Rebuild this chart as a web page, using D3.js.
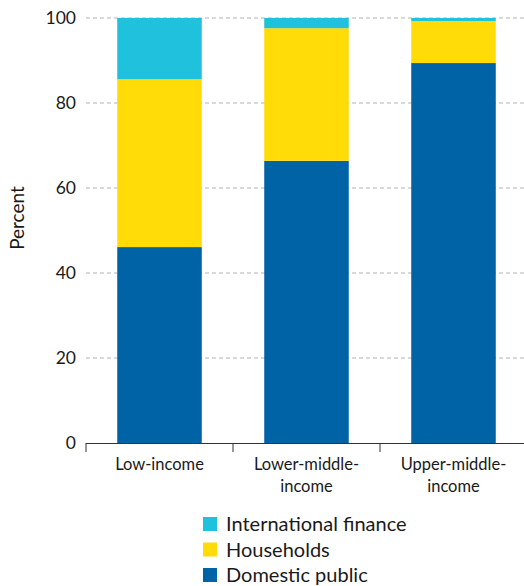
<html>
<head>
	<title>Financing sources by income group</title>
</head>
<body style="margin:0">
	<script src="https://cdnjs.cloudflare.com/ajax/libs/d3/7.8.5/d3.min.js"></script>
	<script type="text/javascript">
		var groups = ["Low-income", "Lower-middle-income", "Upper-middle-income"];
		var groupLines = [["Low-income"], ["Lower-middle-", "income"], ["Upper-middle-", "income"]];
		var seriesNames = ["Domestic public", "Households", "International finance"];
		var domesticPublic = [46.1, 66.4, 89.4];
		var households = [39.5, 31.2, 9.9];
		var internationalFinance = [14.4, 2.4, 0.7];
		var yTicks = [0, 20, 40, 60, 80, 100];
		var colors = ["#0063a6", "#ffdb07", "#20c1dc"];

		var W = 524, H = 586;
		var font = "Lato, 'Open Sans', sans-serif";
		var svg = d3.select("body").append("svg")
					.attr("width", W)
					.attr("height", H)
					.style("font-family", font);

		var x = d3.scaleBand().domain(groups).range([86, 527]).paddingInner(0.425).paddingOuter(0.2125);
		var y = d3.scaleLinear().domain([0, 100]).range([443, 18]);

		var rows = groups.map(function(g, i){
			return {group: g, "Domestic public": domesticPublic[i], "Households": households[i], "International finance": internationalFinance[i]};
		});
		var stacked = d3.stack().keys(seriesNames)(rows);

		// gridlines
		svg.append("g").selectAll("line")
			.data(yTicks.filter(function(d){ return d > 0; }))
			.enter().append("line")
			.attr("x1", 86).attr("x2", W)
			.attr("y1", function(d){ return y(d); })
			.attr("y2", function(d){ return y(d); })
			.style("stroke", "#b3b3b3")
			.style("stroke-width", 1)
			.style("stroke-dasharray", "4,3");

		// y tick labels
		svg.append("g").selectAll("text")
			.data(yTicks)
			.enter().append("text")
			.attr("x", 76)
			.attr("y", function(d){ return y(d); })
			.attr("dy", "0.35em")
			.attr("text-anchor", "end")
			.style("font-size", "17.5px")
			.style("fill", "#1a1a1a")
			.text(function(d){ return d; });

		svg.append("text")
			.attr("transform", "translate(24,218) rotate(-90)")
			.attr("text-anchor", "middle")
			.style("font-size", "19px")
			.style("fill", "#1a1a1a")
			.text("Percent");

		// bars
		svg.append("g").selectAll("g")
			.data(stacked)
			.enter().append("g")
			.style("fill", function(d, i){ return colors[i]; })
			.selectAll("rect")
			.data(function(d){ return d; })
			.enter().append("rect")
			.attr("x", function(d){ return x(d.data.group); })
			.attr("width", x.bandwidth())
			.attr("y", function(d){ return y(d[1]); })
			.attr("height", function(d){ return y(d[0]) - y(d[1]); });

		// x axis
		var axisG = svg.append("g");
		axisG.append("line")
			.attr("x1", 86).attr("x2", W)
			.attr("y1", y(0) + 0.5).attr("y2", y(0) + 0.5)
			.style("stroke", "#333").style("stroke-width", 1);
		axisG.selectAll("line.tick")
			.data(groups)
			.enter().append("line")
			.attr("class", "tick")
			.attr("x1", function(d){ return x(d) - x.step() * x.paddingInner() / 2; })
			.attr("x2", function(d){ return x(d) - x.step() * x.paddingInner() / 2; })
			.attr("y1", y(0)).attr("y2", y(0) + 9)
			.style("stroke", "#333").style("stroke-width", 1);
		axisG.selectAll("text")
			.data(groups)
			.enter().append("text")
			.attr("x", function(d){ return x(d) + x.bandwidth() / 2; })
			.attr("y", y(0) + 27)
			.attr("text-anchor", "middle")
			.style("font-size", "16.5px")
			.style("fill", "#1a1a1a")
			.each(function(d, i){
				var t = d3.select(this);
				groupLines[i].forEach(function(line, j){
					t.append("tspan")
						.attr("x", x(d) + x.bandwidth() / 2)
						.attr("dy", j === 0 ? 0 : 22)
						.text(line);
				});
			});

		// legend
		var legendOrder = ["International finance", "Households", "Domestic public"];
		var legend = svg.append("g").selectAll("g")
			.data(legendOrder)
			.enter().append("g")
			.attr("transform", function(d, i){ return "translate(203," + (524 + i * 25.5) + ")"; });
		legend.append("rect")
			.attr("x", 0).attr("y", -7)
			.attr("width", 14).attr("height", 14)
			.style("fill", function(d){ return colors[seriesNames.indexOf(d)]; });
		legend.append("text")
			.attr("x", 23)
			.attr("dy", "0.35em")
			.style("font-size", "20px")
			.style("fill", "#1a1a1a")
			.text(function(d){ return d; });
	</script>
</body>
</html>
